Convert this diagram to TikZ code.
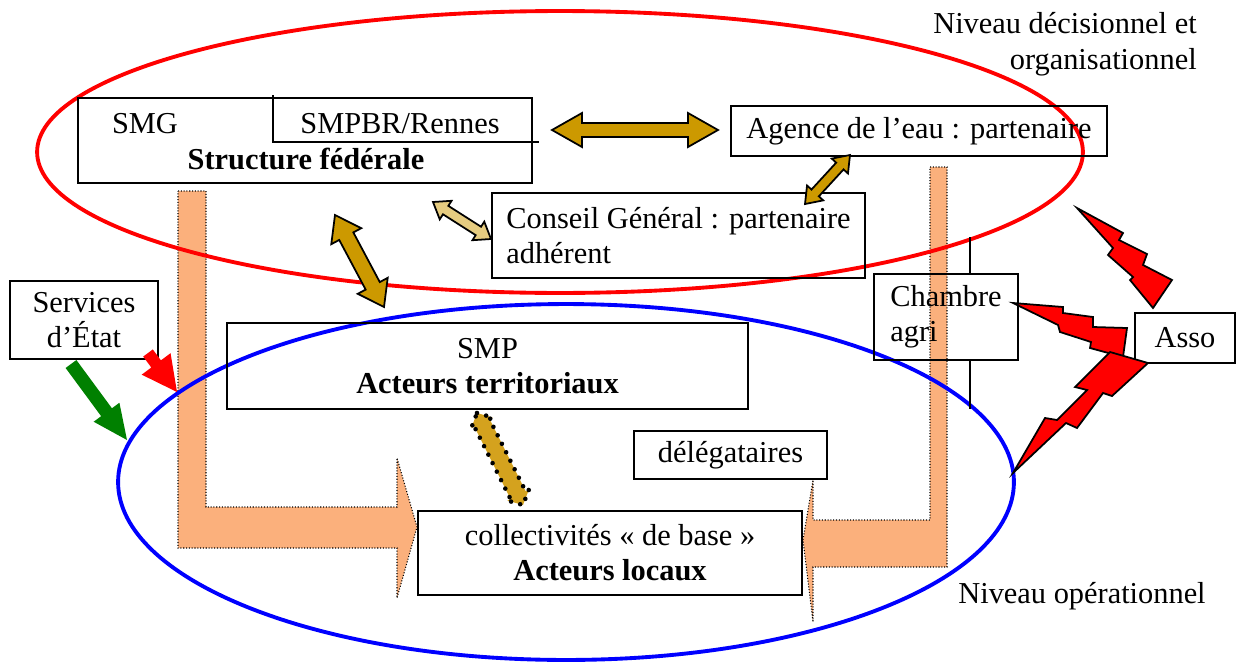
\documentclass[tikz,border=0pt]{standalone}
\usepackage{fontspec}
\setmainfont{Liberation Serif}
\usepackage{tikz}
\usetikzlibrary{calc,positioning}
\definecolor{peach}{RGB}{251,176,124}
\definecolor{gold}{RGB}{204,153,0}
\definecolor{lightgold}{RGB}{230,204,128}
\definecolor{dotgold}{RGB}{212,162,30}
\definecolor{leaf}{RGB}{0,128,0}
\tikzstyle{box} = [draw, line width=0.9pt]
\tikzstyle{flow} = [fill=peach, draw=black, line width=0.6pt, densely dotted]
\tikzstyle{bolt} = [fill=red, draw=black, line width=1pt, line join=miter]
\tikzstyle{goldarrow} = [fill=gold, draw=black, line width=1pt]
\tikzstyle{dotarrow} = [fill=dotgold, draw=black, line width=2.6pt, dash pattern=on 0pt off 5.4pt, line cap=round]
% fat double arrow: style, from, to, shaft half width, head half width, head length
\newcommand{\dblarrow}[6]{%
  \filldraw[#1] (#2) -- ($(#2)!#6!(#3)!#5!90:(#3)$) -- ($(#2)!#6!(#3)!#4!90:(#3)$)
    -- ($(#3)!#6!(#2)!#4!-90:(#2)$) -- ($(#3)!#6!(#2)!#5!-90:(#2)$) -- (#3)
    -- ($(#3)!#6!(#2)!#5!90:(#2)$) -- ($(#3)!#6!(#2)!#4!90:(#2)$)
    -- ($(#2)!#6!(#3)!#4!-90:(#3)$) -- ($(#2)!#6!(#3)!#5!-90:(#3)$) -- cycle;}
% fat single arrow, no outline
\newcommand{\blkarrow}[6]{%
  \fill[#1] ($(#2)!#4!90:(#3)$) -- ($(#3)!#6!(#2)!#4!-90:(#2)$) -- ($(#3)!#6!(#2)!#5!-90:(#2)$)
    -- (#3) -- ($(#3)!#6!(#2)!#5!90:(#2)$) -- ($(#3)!#6!(#2)!#4!90:(#2)$)
    -- ($(#2)!#4!-90:(#3)$) -- cycle;}

\begin{document}
\begin{tikzpicture}[x=0.02cm, y=-0.02cm, font=\fontsize{17.3pt}{20pt}\selectfont]
    \useasboundingbox (0,0) rectangle (1239,666);

    % broad flows towards the local actors
    \filldraw[flow] (178,191) -- (206,191) -- (206,507) -- (397,507) -- (397,458) -- (417,527)
        -- (397,598) -- (397,548) -- (178,548) -- cycle;
    \filldraw[flow] (930,167) -- (947,167) -- (947,567) -- (813,567) -- (813,622) -- (803,540)
        -- (813,480) -- (813,520) -- (930,520) -- cycle;

    % the two levels
    \draw[red, line width=2.2pt] (560,152) ellipse [x radius=10.46cm, y radius=2.82cm];
    \draw[blue, line width=2.2pt] (566,482) ellipse [x radius=8.96cm, y radius=3.56cm];

    % federal structure
    \node[box, minimum width=9.08cm, minimum height=1.7cm] (sf) at (305,140.5) {};
    \node[anchor=base] (smg) at (145,133) {SMG};
    \node[anchor=base] (smpbr) at (400,133) {SMPBR/Rennes};
    \node[anchor=base] (sflabel) at (306,169) {\textbf{Structure fédérale}};
    \draw[line width=0.9pt] (273,95) -- (273,142) -- (539,142);

    \node[box, minimum width=7.52cm, minimum height=1cm] (ag) at (919,131) {Agence de l’eau : partenaire};
    \node[box, minimum width=7.46cm, minimum height=1.7cm, align=left] (cg) at (678.5,235.5)
        {Conseil Général : partenaire\\adhérent};
    \node[box, minimum width=2.96cm, minimum height=1.56cm, align=center] (se) at (84,320) {Services\\d’État};
    \node[box, minimum width=10.42cm, minimum height=1.72cm, align=center] (smp) at (487.5,366)
        {SMP\\\textbf{Acteurs territoriaux}};
    \node[box, minimum width=2.88cm, minimum height=1.72cm, align=left] (ch) at (946,317)
        {Chambre\\agri};
    \draw[line width=0.6pt] ($(ch.north)+(24,0)$) -- ++(0,-36);
    \draw[line width=0.6pt] ($(ch.south)+(24,0)$) -- ++(0,48);
    \node[box, minimum width=2cm, minimum height=1cm] (asso) at (1185,338) {Asso};
    \node[box, minimum width=3.86cm, minimum height=0.96cm] (del) at (730.5,455) {délégataires};
    \node[box, minimum width=7.68cm, minimum height=1.68cm, align=center] (col) at (610,553)
        {collectivités « de base »\\\textbf{Acteurs locaux}};

    \node[anchor=base east, inner sep=0pt] (lvltop) at (1197,33) {Niveau décisionnel et};
    \node[anchor=base east, inner sep=0pt] (lvltop2) at (1197,69) {organisationnel};
    \node[anchor=base west, inner sep=0pt] (lvlop) at (958,603) {Niveau opérationnel};

    % partnerships
    \coordinate (p1) at (552,130);  \coordinate (p2) at (718,130);
    \coordinate (p3) at (850,155);  \coordinate (p4) at (805,204);
    \coordinate (p5) at (433,202);  \coordinate (p6) at (491,239);
    \coordinate (p7) at (335,215);  \coordinate (p8) at (384,307);
    \coordinate (p9) at (477,413);  \coordinate (p10) at (523,505);
    \dblarrow{goldarrow}{p1}{p2}{0.14cm}{0.34cm}{0.6cm}
    \dblarrow{goldarrow}{p3}{p4}{0.1cm}{0.22cm}{0.3cm}
    \dblarrow{goldarrow, fill=lightgold}{p5}{p6}{0.1cm}{0.22cm}{0.3cm}
    \dblarrow{goldarrow}{p7}{p8}{0.16cm}{0.34cm}{0.48cm}
    \dblarrow{dotarrow}{p9}{p10}{0.17cm}{0.24cm}{0.22cm}

    % state services
    \coordinate (s1) at (148,353);  \coordinate (s2) at (177,392);
    \coordinate (s3) at (71,364);   \coordinate (s4) at (127,440);
    \blkarrow{red}{s1}{s2}{0.12cm}{0.36cm}{0.7cm}
    \blkarrow{leaf}{s3}{s4}{0.134cm}{0.32cm}{0.69cm}

    % conflicts
    \filldraw[bolt] (1077,208) -- (1123,233) -- (1119,240) -- (1147,254) -- (1143,265) -- (1172,280)
        -- (1153,308) -- (1130,280) -- (1133,277) -- (1108,255) -- (1113,248) -- cycle;
    \filldraw[bolt] (1013,303) -- (1063,307) -- (1063,313) -- (1093,317) -- (1093,327) -- (1127,328)
        -- (1123,357) -- (1090,348) -- (1091,342) -- (1060,332) -- (1058,325) -- cycle;
    \filldraw[bolt] (1148,363) -- (1110,352) -- (1075,387) -- (1087,390) -- (1057,420) -- (1045,418)
        -- (1013,473) -- (1066,423) -- (1077,428) -- (1103,393) -- (1112,396) -- cycle;
\end{tikzpicture}
\end{document}
